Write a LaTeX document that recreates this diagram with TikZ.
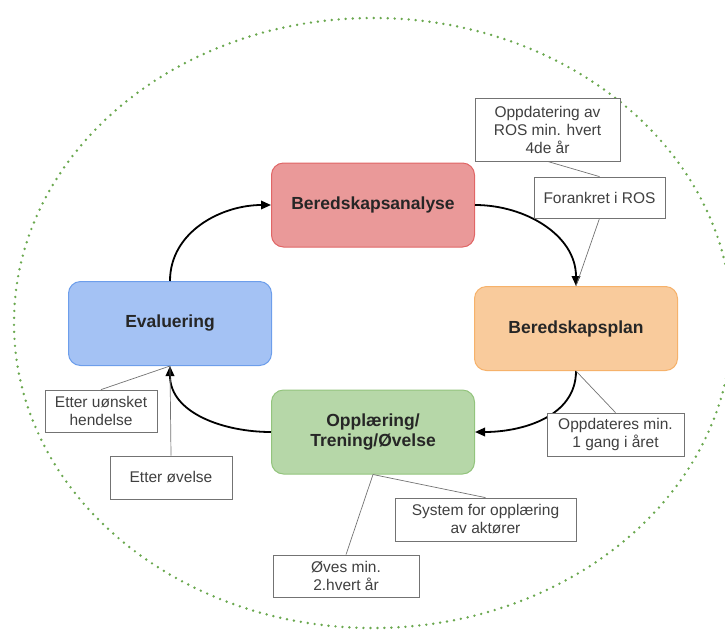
\documentclass[tikz,border=0pt]{standalone}
\usepackage{fontspec}
\setmainfont{Liberation Sans}
\usetikzlibrary{arrows.meta}

\definecolor{anafill}{HTML}{EA9999}
\definecolor{anaedge}{HTML}{E06666}
\definecolor{planfill}{HTML}{F9CB9C}
\definecolor{planedge}{HTML}{F6B26B}
\definecolor{trainfill}{HTML}{B6D7A8}
\definecolor{trainedge}{HTML}{93C47D}
\definecolor{evalfill}{HTML}{A4C2F4}
\definecolor{evaledge}{HTML}{6D9EEB}
\definecolor{dotgreen}{HTML}{6AA84F}

\tikzset{
	phase/.style={draw, rounded corners=12pt, line width=1pt, minimum width=203pt, minimum height=84pt, align=center, text=black!85, font=\fontsize{17.5}{20.5}\selectfont\bfseries},
	note/.style={draw=black!55, line width=0.8pt, fill=white, inner sep=0pt, align=center, text=black!75, font=\fontsize{15.5}{18}\selectfont},
	flow/.style={-{Triangle[length=10pt,width=8.5pt]}, line width=1.8pt},
	noteline/.style={draw=black!55, line width=0.7pt}
}

\begin{document}
\begin{tikzpicture}[x=1pt, y=-1pt]
	\useasboundingbox (0, 0) rectangle (725, 630);
	\draw[dotgreen, line width=2.7pt, line cap=round, dash pattern=on 0pt off 7pt] (373, 323) ellipse [x radius=359, y radius=305];

	\node[phase, fill=anafill, draw=anaedge]	(ana)	at (373, 205)	{Beredskapsanalyse};
	\node[phase, fill=planfill, draw=planedge]	(plan)	at (576, 328.5)	{Beredskapsplan};
	\node[phase, fill=trainfill, draw=trainedge]	(train)	at (373, 432)	{Opplæring/\\Trening/Øvelse};
	\node[phase, fill=evalfill, draw=evaledge]	(eval)	at (170, 323.5)	{Evaluering};

	\draw[flow] (ana.east) to[out=0, in=90] (plan.north);
	\draw[flow] (plan.south) to[out=-90, in=0] (train.east);
	\draw[flow] (train.west) to[out=180, in=-90] (eval.south);
	\draw[flow] (eval.north) to[out=90, in=180] (ana.west);

	% notes
	\node[note, minimum width=145pt, minimum height=63pt]	(ros)	at (547.5, 129.5)	{Oppdatering av\\ROS min. hvert\\4de år};
	\node[note, minimum width=131pt, minimum height=41pt]	(anchor)	at (599.5, 197.5)	{Forankret i ROS};
	\node[note, minimum width=137pt, minimum height=43pt]	(yearly)	at (615.5, 434.5)	{Oppdateres min.\\1 gang i året};
	\node[note, minimum width=181pt, minimum height=43pt]	(system)	at (485.5, 519.5)	{System for opplæring\\av aktører};
	\node[note, minimum width=146pt, minimum height=42pt]	(drill)	at (346, 576)	{Øves min.\\2.hvert år};
	\node[note, minimum width=112pt, minimum height=42pt]	(event)	at (101, 411)	{Etter uønsket\\hendelse};
	\node[note, minimum width=122pt, minimum height=43pt]	(after)	at (171, 477.5)	{Etter øvelse};

	\draw[noteline] (ros.south) -- (anchor.north);
	\draw[noteline] (anchor.south) -- (plan.north);
	\draw[noteline] (yearly.north) -- (plan.south);
	\draw[noteline] (system.north) -- (train.south);
	\draw[noteline] (drill.north) -- (train.south);
	\draw[noteline] (event.north) -- (eval.south);
	\draw[noteline] (after.north) -- (eval.south);
\end{tikzpicture}
\end{document}
